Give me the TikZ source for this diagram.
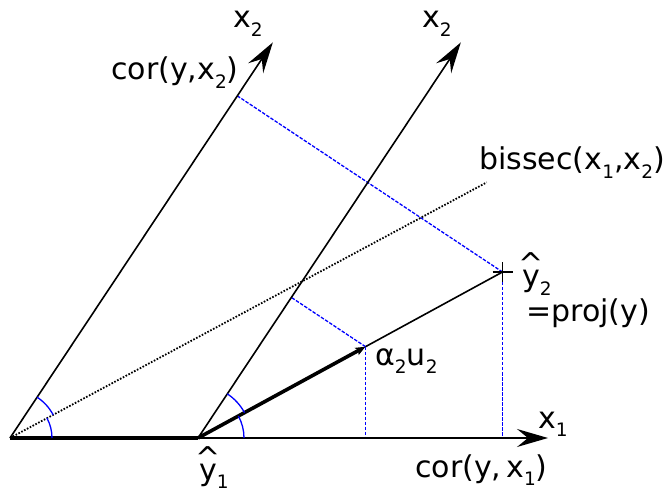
\documentclass[tikz,border=0pt]{standalone}
\usepackage{fontspec}
\setmainfont{DejaVu Sans}
\usetikzlibrary{arrows.meta,calc}
\newcommand\sbs[1]{\raisebox{-0.28em}{\fontsize{18.5}{18.5}\selectfont #1}}
\newcommand\yhat{\ooalign{y\cr\hidewidth\raisebox{0.4em}{\char94}\hidewidth\cr}}
\begin{document}
\begin{tikzpicture}[x=1pt,y=1pt,
  axis/.style={line width=1.6pt,-{Stealth[length=31pt,width=18pt,inset=11pt]}},
  thinline/.style={line width=1.6pt},
  thickline/.style={line width=3.6pt},
  proj/.style={blue,line width=1.3pt,dash pattern=on 3.5pt off 1.5pt},
  angarc/.style={blue,line width=1.3pt},
  bis/.style={line width=1.8pt,dash pattern=on 1.6pt off 1.6pt},
  lbl/.style={inner sep=0pt,anchor=base west,font=\fontsize{30}{32}\selectfont}]
\useasboundingbox (0,0) rectangle (664,493);
% points
\coordinate (O) at (10,55);
\coordinate (Y1) at (198,55);
\coordinate (X1) at (548,55);
\coordinate (X2L) at ($(O)+(56.4:475)$);
\coordinate (X2R) at ($(Y1)+(56.4:475)$);
\coordinate (B) at ($(O)+(28.2:541)$);
\coordinate (Y2) at (502.5,221);
\coordinate (A) at ($(Y1)!0.5501!(Y2)$);
\coordinate (F2) at ($(O)!(Y2)!(X2L)$);
\coordinate (FA) at ($(Y1)!(A)!(X2R)$);
\coordinate (G2) at (Y2 |- O);
\coordinate (GA) at (A |- O);
% projections
\draw[proj] (Y2) -- (F2);
\draw[proj] (A) -- (FA);
\draw[proj] (Y2) -- (G2);
\draw[proj] (A) -- (GA);
% bisector
\draw[bis] (O) -- (B);
% axes
\draw[axis] (O) -- (X1);
\draw[axis] (O) -- (X2L);
\draw[axis] (Y1) -- (X2R);
% vectors
\draw[thickline] (O) -- (Y1);
\draw[thinline] (A) -- (Y2);
\draw[thickline,-{Stealth[length=10pt,width=8pt,inset=2pt]}] (Y1) -- (A);
% cross
\draw[line width=1.6pt] ($(Y2)+(-10,0)$) -- ($(Y2)+(10,0)$);
\draw[line width=1.6pt] ($(Y2)+(0,-10)$) -- ($(Y2)+(0,10)$);
% angle arcs
\draw[angarc] ($(O)+(42,0)$) arc[start angle=0,end angle=28.2,radius=42pt];
\draw[angarc] ($(O)+(28.2:49)$) arc[start angle=28.2,end angle=56.4,radius=49pt];
\draw[angarc] ($(Y1)+(46,0)$) arc[start angle=0,end angle=28.6,radius=46pt];
\draw[angarc] ($(Y1)+(28.6:53)$) arc[start angle=28.6,end angle=56.4,radius=53pt];
% labels
\node[lbl] (l1) at (233,465) {x\sbs{2}};
\node[lbl] (l2) at (422,465) {x\sbs{2}};
\node[lbl] (l3) at (111,413) {cor(y,x\sbs{2})};
\node[lbl] (l4) at (479,323) {bissec(x\sbs{1},x\sbs{2})};
\node[lbl] (l5) at (522,206) {\yhat\sbs{2}};
\node[lbl] (l6) at (526,171) {=proj(y)};
\node[lbl] (l7) at (375,128) {α\sbs{2}u\sbs{2}};
\node[lbl] (l8) at (538,65) {x\sbs{1}};
\node[lbl] (l9) at (415,16) {cor(y,\,x\sbs{1})};
\node[lbl] (l10) at (199,13) {\yhat\sbs{1}};
\end{tikzpicture}
\end{document}
